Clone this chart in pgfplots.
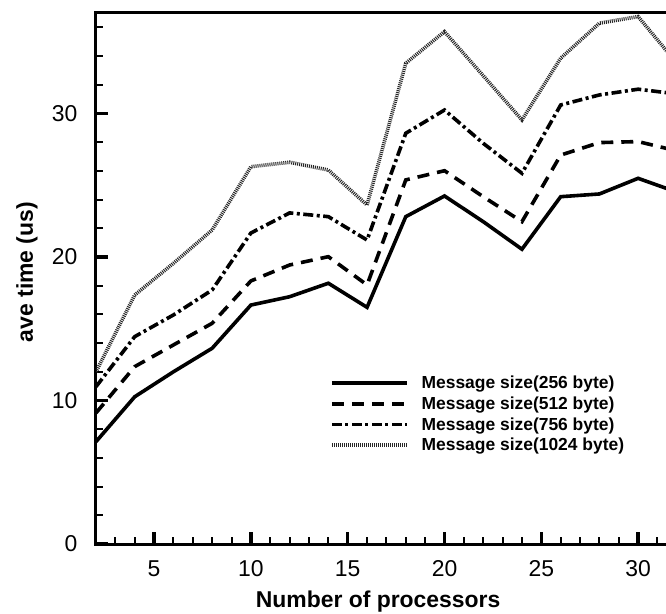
\documentclass[border=0pt]{standalone}
\usepackage{fontspec}
\setmainfont{Liberation Sans}
\usepackage{pgfplots}
\pgfplotsset{compat=1.18}
\begin{document}
\begin{tikzpicture}
\path[use as bounding box] (-96bp,-70bp) rectangle (570bp,544bp);
\begin{axis}[
  scale only axis, width=570bp, height=531bp,
  at={(0,0)}, anchor=south west,
  xmin=2, xmax=31.44, ymin=0, ymax=37,
  axis x line*=box, axis y line*=left,
  axis line style={line width=3bp, line cap=rect},
  xtick={5,10,15,20,25,30}, ytick={0,10,20,30},
  minor xtick={3,4,6,7,8,9,11,12,13,14,16,17,18,19,21,22,23,24,26,27,28,29,31},
  minor ytick={2,4,6,8,12,14,16,18,22,24,26,28,32,34,36},
  xtick pos=left, ytick pos=left,
  tick align=inside,
  major tick length=12bp, minor tick length=7bp,
  every major tick/.append style={line width=3.5bp, black},
  every minor tick/.append style={line width=2bp, black},
  /pgf/number format/assume math mode=true,
  ticklabel style={font=\fontsize{23}{26}\selectfont},
  yticklabel style={xshift=-15bp},
  xticklabel style={yshift=-13bp},
  xlabel={\textbf{Number of processors}},
  ylabel={\textbf{ave time (us)}},
  label style={font=\fontsize{23}{26}\selectfont},
  xlabel style={at={(axis description cs:0.495,-0.109)}, anchor=center},
  ylabel style={at={(axis description cs:-0.121,0.512)}, anchor=center, rotate=0},
  legend style={at={(0.4105,0.318)}, anchor=north west, draw=none, fill=none,
    inner sep=0pt, outer sep=0pt, row sep=4.5bp,
    font=\bfseries\fontsize{17.5}{20}\selectfont,
    nodes={inner sep=1bp},
    /tikz/every odd column/.append style={column sep=12bp}},
  legend cell align=left,
  legend image code/.code={\draw[#1] (0bp,0bp) -- (75bp,0bp);},
]
\addplot[black, line width=3.6bp] coordinates {
(2,7.13) (4,10.26) (6,12.0) (8,13.64) (10,16.65) (12,17.23) (14,18.17) (16,16.49)
(18,22.81) (20,24.25) (22,22.46) (24,20.54) (26,24.2) (28,24.39) (30,25.48) (32,24.52)};
\addlegendentry{Message size(256 byte)}
\addplot[black, line width=3.6bp, dash pattern=on 12bp off 8bp] coordinates {
(2,9.13) (4,12.36) (6,13.87) (8,15.38) (10,18.33) (12,19.44) (14,20.02) (16,18.05)
(18,25.37) (20,26.01) (22,24.2) (24,22.46) (26,27.1) (28,27.97) (30,28.04) (32,27.39)};
\addlegendentry{Message size(512 byte)}
\addplot[black, line width=3.6bp, dash pattern=on 10bp off 3.5bp on 3bp off 3.5bp] coordinates {
(2,10.96) (4,14.45) (6,15.96) (8,17.7) (10,21.67) (12,23.07) (14,22.81) (16,21.18)
(18,28.62) (20,30.24) (22,27.92) (24,25.83) (26,30.59) (28,31.29) (30,31.69) (32,31.36)};
\addlegendentry{Message size(756 byte)}
\addplot[black!85, line width=3.6bp, dash pattern=on 1bp off 1bp] coordinates {
(2,12.0) (4,17.35) (6,19.56) (8,21.88) (10,26.29) (12,26.6) (14,26.06) (16,23.62)
(18,33.5) (20,35.7) (22,32.63) (24,29.55) (26,33.85) (28,36.29) (30,36.75) (32,33.5)};
\addlegendentry{Message size(1024 byte)}
\end{axis}
\end{tikzpicture}
\end{document}
